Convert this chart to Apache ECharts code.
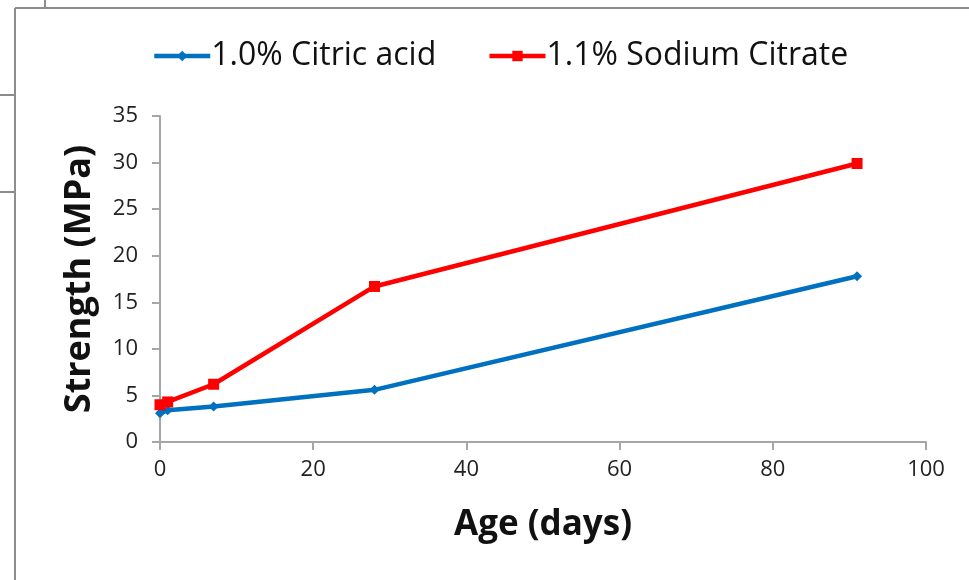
<!DOCTYPE html>
<html><head><meta charset="utf-8">
<script src="https://cdn.jsdelivr.net/npm/echarts@6/dist/echarts.min.js"></script>
<style>html,body{margin:0;padding:0;background:#fff}#c{width:969px;height:580px}</style>
</head><body><div id="c"></div>
<script>
const ageDays = [0, 1, 7, 28, 91];
const citricAcid = [3.1, 3.4, 3.8, 5.6, 17.8];
const sodiumCitrate = [4.0, 4.3, 6.2, 16.7, 29.9];
const seriesNames = ['1.0% Citric acid', '1.1% Sodium Citrate'];
const xTitle = 'Age (days)';
const yTitle = 'Strength (MPa)';

const FONT = 'Open Sans';
const chart = echarts.init(document.getElementById('c'), null, {renderer:'canvas'});
const axisCommon = {
  axisLine:{show:true, lineStyle:{color:'#a6a6a6', width:2}},
  axisTick:{show:true, inside:false, length:8, lineStyle:{color:'#a6a6a6', width:2}},
  splitLine:{show:false},
  axisLabel:{color:'#222', fontFamily:FONT, fontSize:22}
};
chart.setOption({
  animation:false,
  backgroundColor:'#fff',
  grid:{left:160, right:43, top:116, bottom:138, containLabel:false},
  legend:{
    left:147, top:35, itemWidth:56, itemHeight:13, itemGap:51,
    lineStyle:{width:4.5},
    textStyle:{fontFamily:FONT, fontSize:32, color:'#111', padding:[0,0,0,-4]},
    data:seriesNames
  },
  xAxis:Object.assign({}, axisCommon, {
    type:'value', min:0, max:100, interval:20,
    name:xTitle, nameLocation:'middle', nameGap:66,
    nameTextStyle:{fontFamily:FONT, fontSize:35, fontWeight:'bold', color:'#111'},
    axisLabel:Object.assign({}, axisCommon.axisLabel, {margin:17})
  }),
  yAxis:Object.assign({}, axisCommon, {
    type:'value', min:0, max:35, interval:5,
    name:yTitle, nameLocation:'middle', nameGap:62, nameRotate:90,
    nameTextStyle:{fontFamily:FONT, fontSize:36, fontWeight:'bold', color:'#111'},
    axisLabel:Object.assign({}, axisCommon.axisLabel, {margin:22})
  }),
  series:[
    {name:seriesNames[0], type:'line', data:ageDays.map((x,i)=>[x,citricAcid[i]]),
     symbol:'diamond', symbolSize:10, color:'#0070c0',
     lineStyle:{width:4.5, color:'#0070c0'}, itemStyle:{color:'#0070c0'}},
    {name:seriesNames[1], type:'line', data:ageDays.map((x,i)=>[x,sodiumCitrate[i]]),
     symbol:'rect', symbolSize:11, color:'#ff0000',
     lineStyle:{width:4.5, color:'#ff0000'}, itemStyle:{color:'#ff0000'}}
  ],
  graphic:[
    {type:'line', shape:{x1:15, y1:8, x2:969, y2:8}, style:{stroke:'#8c8c8c', lineWidth:2}},
    {type:'line', shape:{x1:15, y1:8, x2:15, y2:580}, style:{stroke:'#8c8c8c', lineWidth:2}},
    {type:'line', shape:{x1:45, y1:0, x2:45, y2:8}, style:{stroke:'#8c8c8c', lineWidth:2}},
    {type:'line', shape:{x1:0, y1:95, x2:15, y2:95}, style:{stroke:'#8c8c8c', lineWidth:2}},
    {type:'line', shape:{x1:0, y1:192, x2:15, y2:192}, style:{stroke:'#8c8c8c', lineWidth:2}}
  ]
});
</script></body></html>
